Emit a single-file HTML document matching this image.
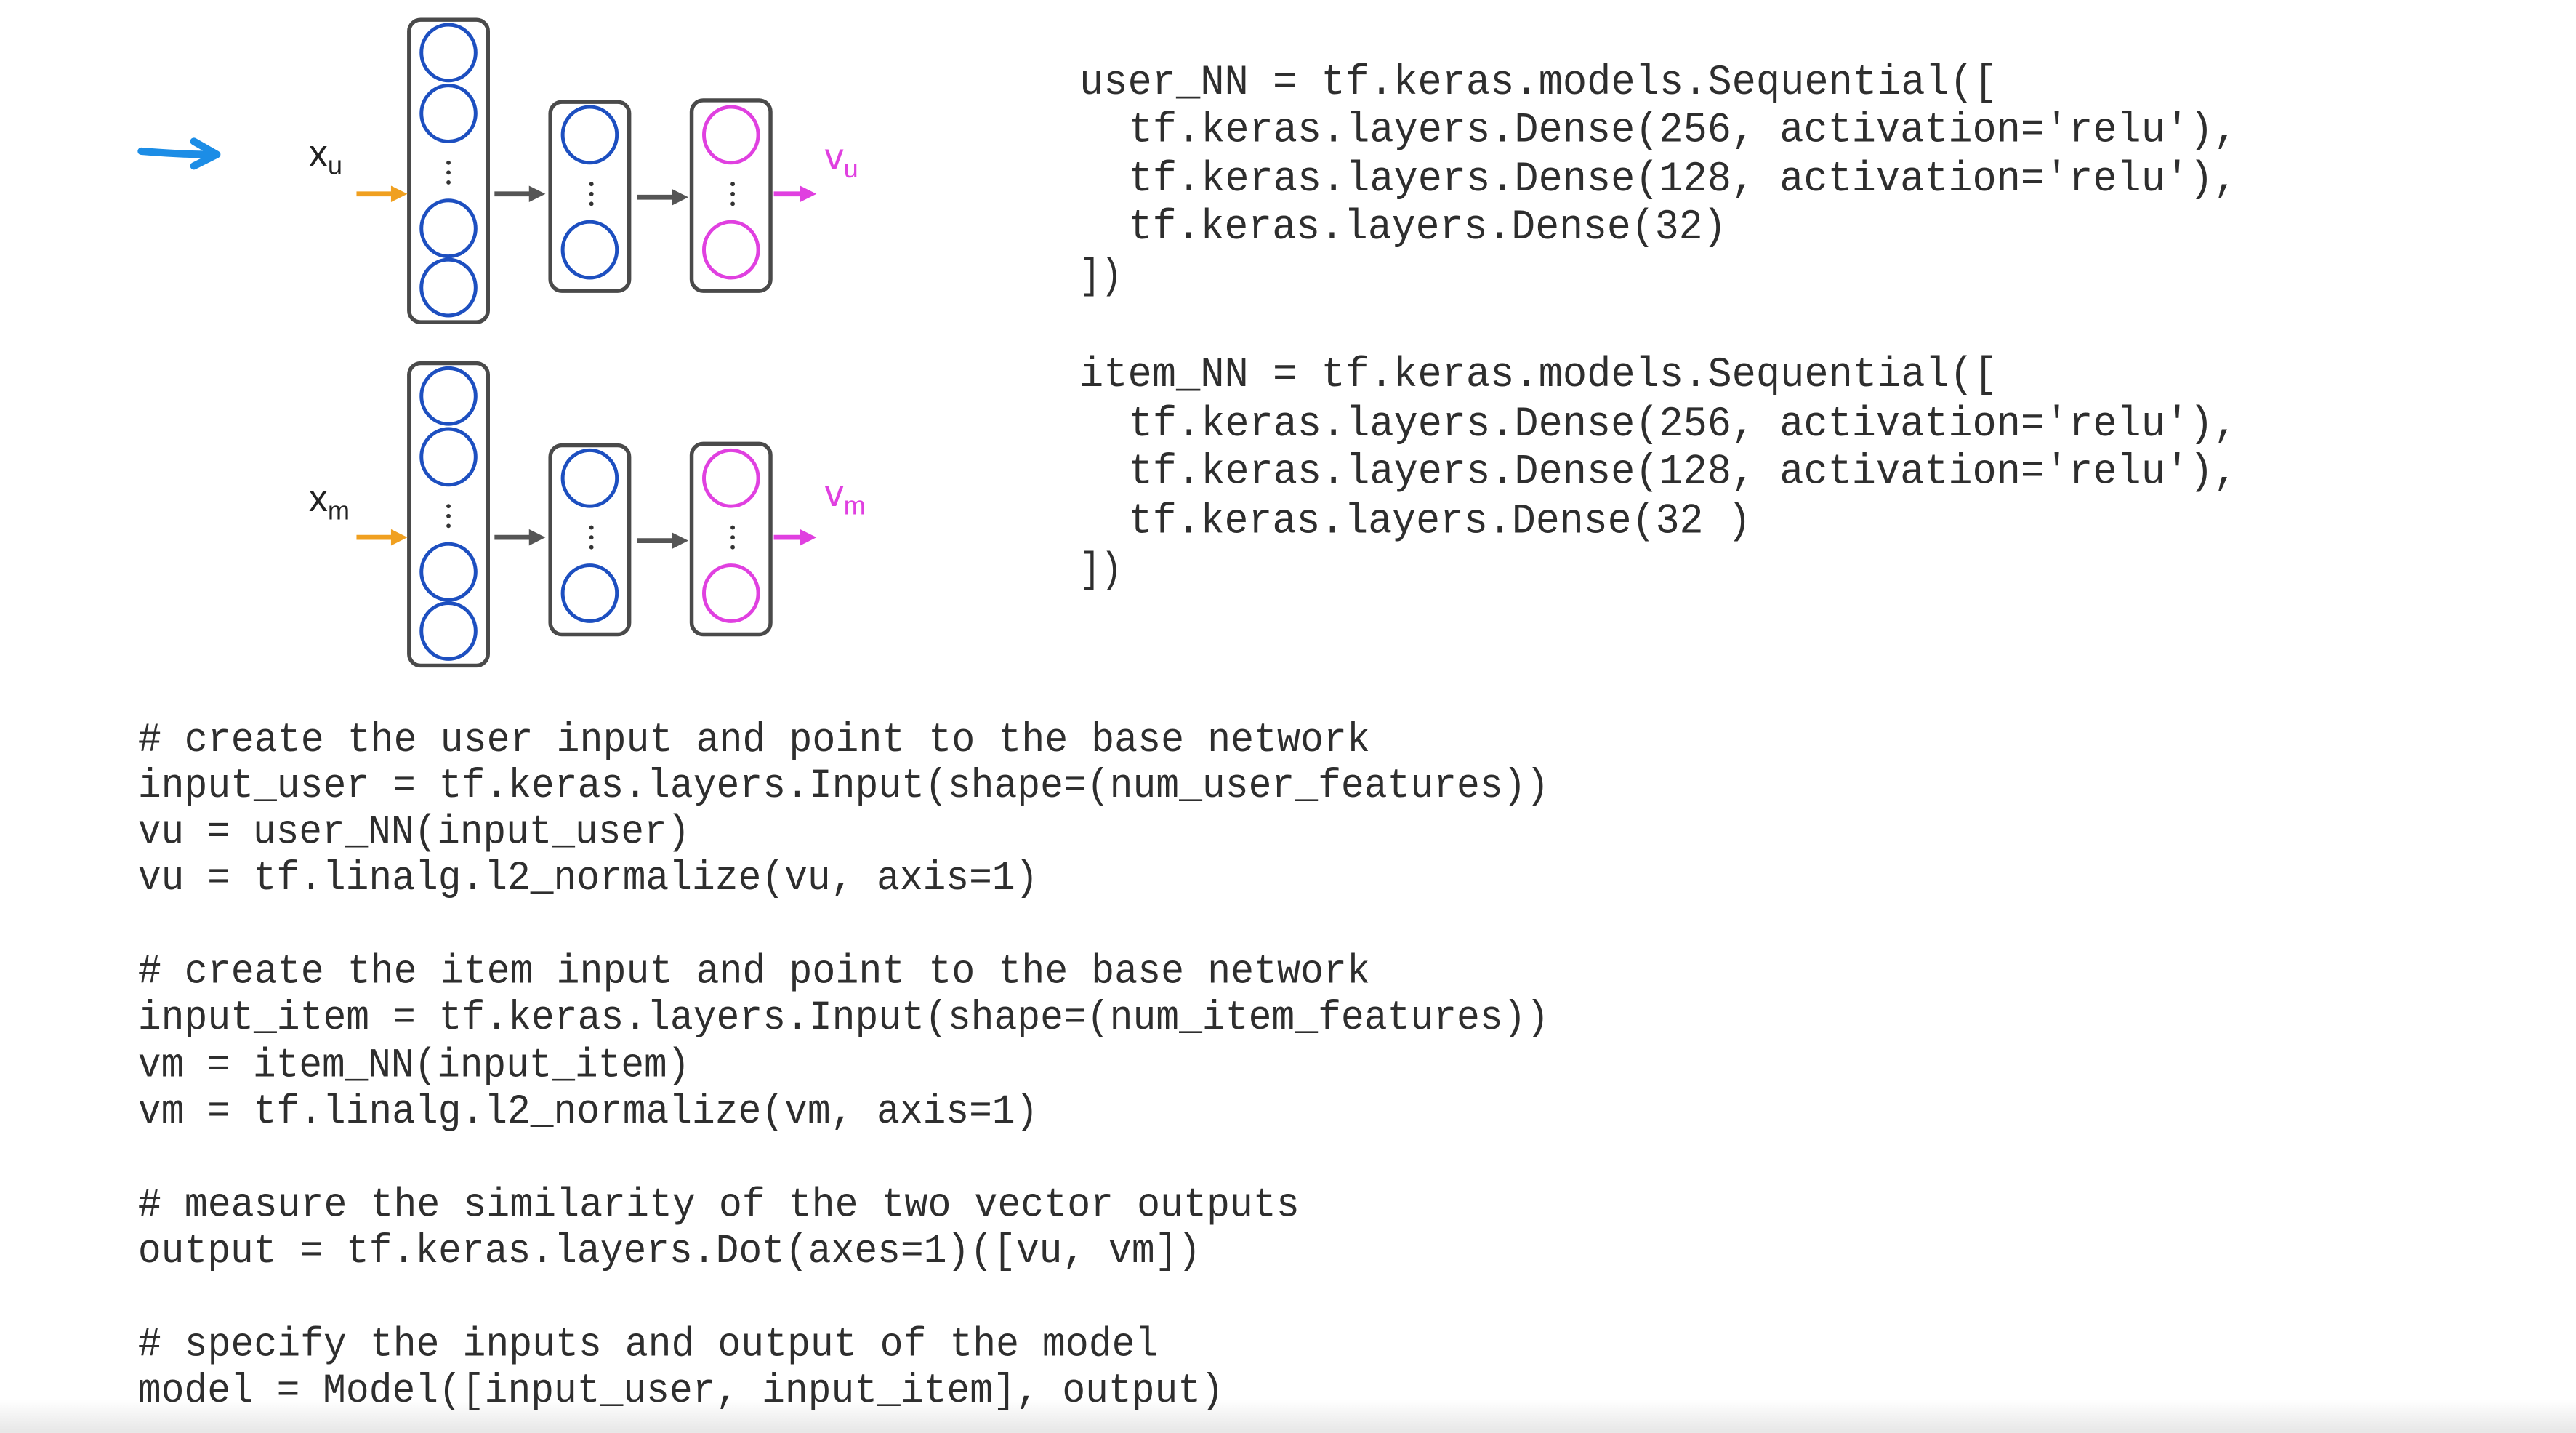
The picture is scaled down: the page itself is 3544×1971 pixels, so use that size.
<!DOCTYPE html>
<html><head><meta charset="utf-8"><style>
html,body{margin:0;padding:0;background:#fff;}
svg{display:block;}
.c{font-family:"Liberation Mono",monospace;fill:#2e2e2e;}
.t{font-size:26px;}
.b{font-size:25px;}
.lab{font-family:"Liberation Sans",sans-serif;}
</style></head><body>
<svg width="3544" height="1971" viewBox="0 0 1568 872" xmlns="http://www.w3.org/2000/svg">
<defs>
<linearGradient id="g" x1="0" y1="0" x2="0" y2="1"><stop offset="0" stop-color="#fff"/><stop offset="1" stop-color="#e6e6e6"/></linearGradient>
</defs>
<rect x="0" y="0" width="1568" height="872" fill="#fff"/>
<rect x="0" y="852" width="1568" height="20" fill="url(#g)"/>

<path d="M86 92 Q110 94 130 94" stroke="#1c8de6" stroke-width="4.5" fill="none" stroke-linecap="round"/>
<path d="M118 86 L132 94 L118 101" stroke="#1c8de6" stroke-width="4.5" fill="none" stroke-linecap="round" stroke-linejoin="round"/>

<g id="net">
<rect x="249" y="12" width="48" height="184" rx="7" fill="none" stroke="#4a4a4a" stroke-width="2.4"/>
<rect x="335" y="62" width="48" height="115" rx="7" fill="none" stroke="#4a4a4a" stroke-width="2.4"/>
<rect x="421" y="61" width="48" height="116" rx="7" fill="none" stroke="#4a4a4a" stroke-width="2.4"/>
<g fill="none" stroke="#1d4fc0" stroke-width="2.2">
<ellipse cx="273" cy="32" rx="16.5" ry="17"/>
<ellipse cx="273" cy="69" rx="16.5" ry="17"/>
<ellipse cx="273" cy="139" rx="16.5" ry="17"/>
<ellipse cx="273" cy="175" rx="16.5" ry="17"/>
<ellipse cx="359" cy="82" rx="16.5" ry="17"/>
<ellipse cx="359" cy="152" rx="16.5" ry="17"/>
</g>
<g fill="none" stroke="#e040e0" stroke-width="2.2">
<ellipse cx="445" cy="82" rx="16.5" ry="17"/>
<ellipse cx="445" cy="152" rx="16.5" ry="17"/>
</g>
<g fill="#333">
<circle cx="273" cy="99" r="1.3"/><circle cx="273" cy="105" r="1.3"/><circle cx="273" cy="111" r="1.3"/>
<circle cx="360" cy="112" r="1.3"/><circle cx="360" cy="118" r="1.3"/><circle cx="360" cy="124" r="1.3"/>
<circle cx="446" cy="112" r="1.3"/><circle cx="446" cy="118" r="1.3"/><circle cx="446" cy="124" r="1.3"/>
</g>
<line x1="217" y1="118" x2="240" y2="118" stroke="#f0a020" stroke-width="3"/>
<path d="M238 113 L248 118 L238 123Z" fill="#f0a020"/>
<line x1="301" y1="118" x2="323" y2="118" stroke="#555" stroke-width="3"/>
<path d="M322 113 L332 118 L322 123Z" fill="#555"/>
<line x1="388" y1="120" x2="410" y2="120" stroke="#555" stroke-width="3"/>
<path d="M409 115 L419 120 L409 125Z" fill="#555"/>
<line x1="471" y1="118" x2="488" y2="118" stroke="#e040e0" stroke-width="3"/>
<path d="M487 113 L497 118 L487 123Z" fill="#e040e0"/>
</g>
<use href="#net" transform="translate(0,209)"/>

<text class="lab" x="188" y="101" font-size="23" fill="#222">x<tspan font-size="16" dy="5">u</tspan></text>
<text class="lab" x="502" y="103" font-size="23" fill="#e040e0">v<tspan font-size="16" dy="5">u</tspan></text>
<text class="lab" x="188" y="311" font-size="23" fill="#222">x<tspan font-size="16" dy="5">m</tspan></text>
<text class="lab" x="502" y="308" font-size="23" fill="#e040e0">v<tspan font-size="16" dy="5">m</tspan></text>

<g class="c t" xml:space="preserve">
<text x="657" y="57" textLength="559" lengthAdjust="spacingAndGlyphs">user_NN = tf.keras.models.Sequential([</text>
<text x="687" y="86" textLength="675" lengthAdjust="spacingAndGlyphs">tf.keras.layers.Dense(256, activation='relu'),</text>
<text x="687" y="116" textLength="675" lengthAdjust="spacingAndGlyphs">tf.keras.layers.Dense(128, activation='relu'),</text>
<text x="687" y="145" textLength="364" lengthAdjust="spacingAndGlyphs">tf.keras.layers.Dense(32)</text>
<text x="657" y="175" textLength="26" lengthAdjust="spacingAndGlyphs">])</text>
<text x="657" y="235" textLength="559" lengthAdjust="spacingAndGlyphs">item_NN = tf.keras.models.Sequential([</text>
<text x="687" y="265" textLength="675" lengthAdjust="spacingAndGlyphs">tf.keras.layers.Dense(256, activation='relu'),</text>
<text x="687" y="294" textLength="675" lengthAdjust="spacingAndGlyphs">tf.keras.layers.Dense(128, activation='relu'),</text>
<text x="687" y="324" textLength="379" lengthAdjust="spacingAndGlyphs">tf.keras.layers.Dense(32 )</text>
<text x="657" y="354" textLength="26" lengthAdjust="spacingAndGlyphs">])</text>
</g>

<g class="c b">
<text x="84" y="457" textLength="750" lengthAdjust="spacingAndGlyphs"># create the user input and point to the base network</text>
<text x="84" y="485" textLength="859" lengthAdjust="spacingAndGlyphs">input_user = tf.keras.layers.Input(shape=(num_user_features))</text>
<text x="84" y="513" textLength="336" lengthAdjust="spacingAndGlyphs">vu = user_NN(input_user)</text>
<text x="84" y="541" textLength="548" lengthAdjust="spacingAndGlyphs">vu = tf.linalg.l2_normalize(vu, axis=1)</text>
<text x="84" y="598" textLength="750" lengthAdjust="spacingAndGlyphs"># create the item input and point to the base network</text>
<text x="84" y="626" textLength="859" lengthAdjust="spacingAndGlyphs">input_item = tf.keras.layers.Input(shape=(num_item_features))</text>
<text x="84" y="655" textLength="336" lengthAdjust="spacingAndGlyphs">vm = item_NN(input_item)</text>
<text x="84" y="683" textLength="548" lengthAdjust="spacingAndGlyphs">vm = tf.linalg.l2_normalize(vm, axis=1)</text>
<text x="84" y="740" textLength="707" lengthAdjust="spacingAndGlyphs"># measure the similarity of the two vector outputs</text>
<text x="84" y="768" textLength="647" lengthAdjust="spacingAndGlyphs">output = tf.keras.layers.Dot(axes=1)([vu, vm])</text>
<text x="84" y="825" textLength="621" lengthAdjust="spacingAndGlyphs"># specify the inputs and output of the model</text>
<text x="84" y="853" textLength="661" lengthAdjust="spacingAndGlyphs">model = Model([input_user, input_item], output)</text>
</g>
</svg>
</body></html>
